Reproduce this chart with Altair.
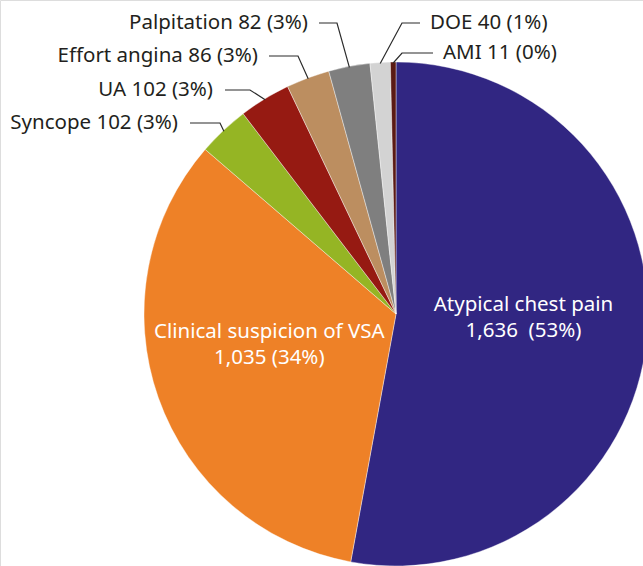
import numpy as np
import pandas as pd
import altair as alt

# ---- data ----
categories = ["Atypical chest pain", "Clinical suspicion of VSA", "Syncope", "UA",
              "Effort angina", "Palpitation", "DOE", "AMI"]
values = [1636, 1035, 102, 102, 86, 82, 40, 11]
pct_labels = [53, 34, 3, 3, 3, 3, 1, 0]
colors = ["#312682", "#EE8127", "#95B524", "#961A12", "#BC8E60", "#7F7F7F", "#D3D3D3", "#5A1A14"]

# ---- layout (pixels) ----
W, H = 643, 566
CX, CY, R = 396, 314, 252
FONT = "Noto Sans"
FS = 20.5

df = pd.DataFrame({"cat": categories, "value": values, "idx": range(len(values)),
                   "pct": pct_labels})

total = sum(values)
cum = np.cumsum([0] + values)
mid = [(cum[i] + cum[i + 1]) / 2 / total * 2 * np.pi for i in range(len(values))]

# outer labels for the small slices (index 2..7)
outer_idx = [2, 3, 4, 5, 6, 7]
label_y = [123, 90, 56, 23, 23, 53]
elbow_x = [220, 250, 298, 337, 402, 402]
line_start_x = [190, 225, 269, 319, 420, 433]
text_x = [178, 213, 258, 308, 430, 443]
text_align = ["right", "right", "right", "right", "left", "left"]

line_rows, text_rows = [], []
for k, i in enumerate(outer_idx):
    ex = CX + (R - 1) * np.sin(mid[i])
    ey = CY - (R - 1) * np.cos(mid[i])
    pts = [(line_start_x[k], label_y[k]), (elbow_x[k], label_y[k]), (ex, ey)]
    for j, (px, py) in enumerate(pts):
        line_rows.append({"cat": categories[i], "o": j, "px": px, "py": py})
    text_rows.append({"cat": categories[i], "px": text_x[k], "py": label_y[k],
                      "label": f"{categories[i]} {values[i]} ({pct_labels[i]}%)",
                      "align": text_align[k]})
lines_df = pd.DataFrame(line_rows)
texts_df = pd.DataFrame(text_rows)

# inner labels
inner_r = [128, 128]
inner_shift = [(0, -8), (-6, -11.5)]
inner_rows = []
for i in [0, 1]:
    bx = CX + inner_r[i] * np.sin(mid[i]) + inner_shift[i][0]
    by = CY - inner_r[i] * np.cos(mid[i]) + inner_shift[i][1]
    num = f"{values[i]:,}"
    sep = "\u00a0 " if i == 0 else " "
    inner_rows.append({"px": bx, "py": by - 13, "label": categories[i]})
    inner_rows.append({"px": bx, "py": by + 13, "label": f"{num}{sep}({pct_labels[i]}%)"})
inner_df = pd.DataFrame(inner_rows)

xs = alt.Scale(domain=[0, W], range=[0, W])
ys = alt.Scale(domain=[0, H], range=[0, H])

pie = alt.Chart(df).mark_arc(radius=R, stroke="white", strokeWidth=0.4).encode(
    theta=alt.Theta("value:Q", stack=True),
    order=alt.Order("idx:Q", sort="ascending"),
    color=alt.Color("cat:N", scale=alt.Scale(domain=categories, range=colors), legend=None),
    x=alt.value(CX),
    y=alt.value(CY),
)

leaders = alt.Chart(lines_df).mark_line(color="#2b2b2b", strokeWidth=1.2).encode(
    x=alt.X("px:Q", scale=xs, axis=None),
    y=alt.Y("py:Q", scale=ys, axis=None),
    detail="cat:N",
    order="o:Q",
)

left_texts = alt.Chart(texts_df[texts_df["align"] == "right"]).mark_text(
    align="right", baseline="middle", font=FONT, fontSize=FS, color="#231f20"
).encode(x=alt.X("px:Q", scale=xs, axis=None), y=alt.Y("py:Q", scale=ys, axis=None), text="label:N")

right_texts = alt.Chart(texts_df[texts_df["align"] == "left"]).mark_text(
    align="left", baseline="middle", font=FONT, fontSize=FS, color="#231f20"
).encode(x=alt.X("px:Q", scale=xs, axis=None), y=alt.Y("py:Q", scale=ys, axis=None), text="label:N")

inner_texts = alt.Chart(inner_df).mark_text(
    align="center", baseline="middle", font=FONT, fontSize=FS, color="white"
).encode(x=alt.X("px:Q", scale=xs, axis=None), y=alt.Y("py:Q", scale=ys, axis=None), text="label:N")

chart = alt.layer(pie, leaders, left_texts, right_texts, inner_texts).properties(
    width=W, height=H, padding=0,
    autosize=alt.AutoSizeParams(type="none"),
).configure_view(stroke=None).configure(background="white")

chart.save("out.html", embed_options={"renderer": "svg", "actions": False})
